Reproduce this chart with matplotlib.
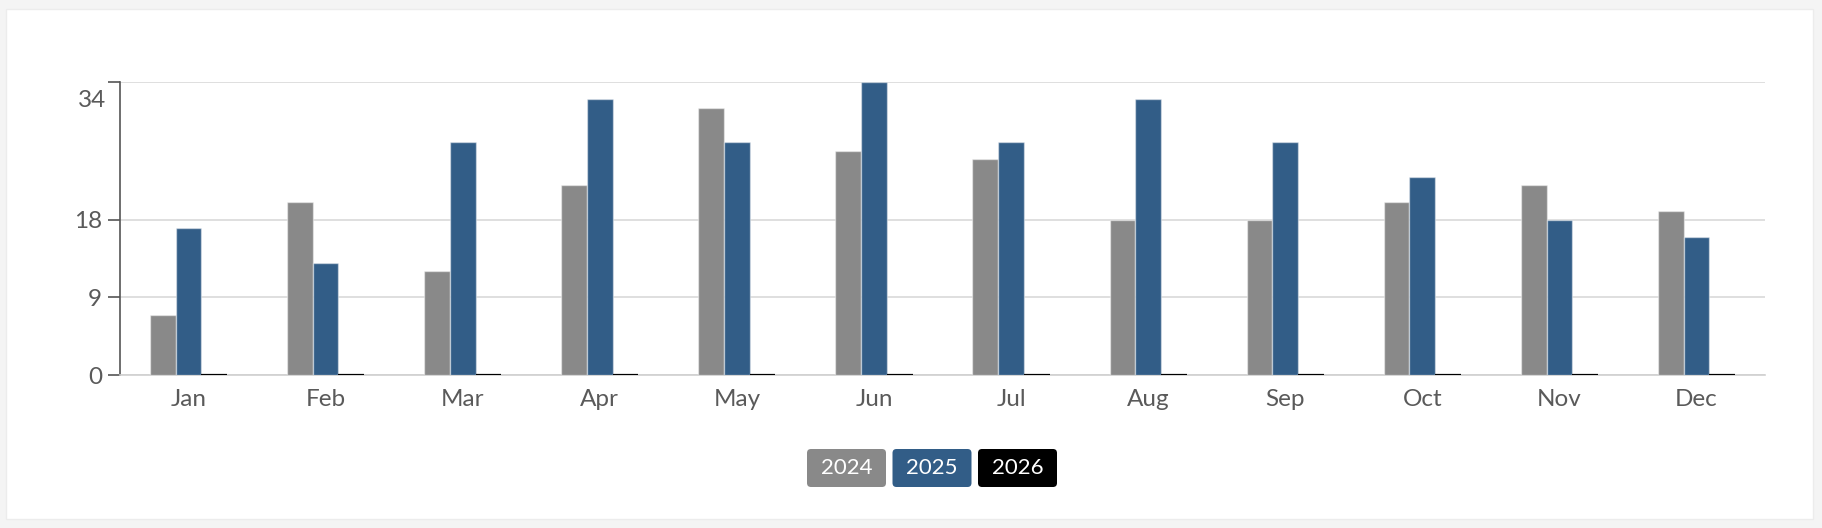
import matplotlib
matplotlib.use("Agg")
import matplotlib.pyplot as plt
from matplotlib.patches import FancyBboxPatch
import numpy as np

months = ["Jan", "Feb", "Mar", "Apr", "May", "Jun", "Jul", "Aug", "Sep", "Oct", "Nov", "Dec"]
series_names = ["2024", "2025", "2026"]
values_2024 = [7, 20, 12, 22, 31, 26, 25, 18, 18, 20, 22, 19]
values_2025 = [17, 13, 27, 32, 27, 34, 27, 32, 27, 23, 18, 16]
values_2026 = [0, 0, 0, 0, 0, 0, 0, 0, 0, 0, 0, 0]
y_ticks = [0, 9, 18, 34]
colors = ["#898989", "#325d87", "#000000"]

plt.rcParams['font.family'] = ['Lato', 'DejaVu Sans']

W, H = 1822, 528
fig = plt.figure(figsize=(W / 100, H / 100), dpi=100)
fig.patch.set_facecolor("#f4f4f4")

# card
card = FancyBboxPatch((6 / W, (H - 519) / H), 1807 / W, 510 / H,
                      boxstyle="square,pad=0", transform=fig.transFigure,
                      facecolor="white", edgecolor="#ececec", linewidth=1, zorder=-5)
fig.patches.append(card)

ax = fig.add_axes([120 / W, 1 - 375 / H, (1765 - 120) / W, (375 - 81.7) / H])
ax.set_facecolor("none")
ax.set_zorder(2)

x = np.arange(len(months))
bw = 0.1875
all_vals = [values_2024, values_2025, values_2026]
for i, (vals, c) in enumerate(zip(all_vals, colors)):
    off = (i - 1) * bw
    if i < 2:
        ax.bar(x + off, vals, width=bw, color=c, edgecolor=(1, 1, 1, 0.45),
               linewidth=1.0, zorder=3)
    else:
        ax.bar(x + off, vals, width=bw, color=c, edgecolor=c, linewidth=1.6, zorder=3)

ax.set_xlim(-0.5, len(months) - 0.5)
ax.set_ylim(0, max(y_ticks))

ax.set_yticks(y_ticks)
ax.set_yticklabels([str(v) if v != max(y_ticks) else "" for v in y_ticks])
ax.yaxis.grid(True, color="#d9d9d9", linewidth=1.2, zorder=0)
ax.set_axisbelow(True)
ax.tick_params(axis="y", length=9, width=1.2, color="#555555", labelsize=17.5,
               labelcolor="#5a5a5a", pad=4)
# top label shifted below its tick
ax.annotate(str(max(y_ticks)), xy=(0, max(y_ticks)), xycoords=("axes fraction", "data"),
            xytext=(-14, -19), textcoords="offset pixels", ha="right", va="center",
            fontsize=17.5, color="#5a5a5a", annotation_clip=False)

ax.set_xticks(x)
ax.set_xticklabels(months)
ax.tick_params(axis="x", length=0, labelsize=17.5, labelcolor="#5a5a5a", pad=10)

for s in ["top", "right"]:
    ax.spines[s].set_visible(False)
ax.spines["left"].set_color("#555555")
ax.spines["left"].set_linewidth(1.2)
ax.spines["bottom"].set_color("#d0d0d0")
ax.spines["bottom"].set_linewidth(1.2)

# legend buttons
lx = [807, 892.5, 978]
lw_box = 79
ly0, ly1 = 449, 487
for name, c, x0 in zip(series_names, colors, lx):
    box = FancyBboxPatch((x0 / W, (H - ly1) / H), lw_box / W, (ly1 - ly0) / H,
                         boxstyle="round,pad=0,rounding_size=%f" % (4 / W),
                         transform=fig.transFigure, facecolor=c, edgecolor="none",
                         mutation_aspect=W / H, zorder=3)
    fig.patches.append(box)
    fig.text((x0 + lw_box / 2) / W, (H - (ly0 + ly1) / 2) / H, name, color="white",
             ha="center", va="center", fontsize=16, zorder=4)

fig.savefig("out.png", dpi=100, facecolor=fig.get_facecolor())
